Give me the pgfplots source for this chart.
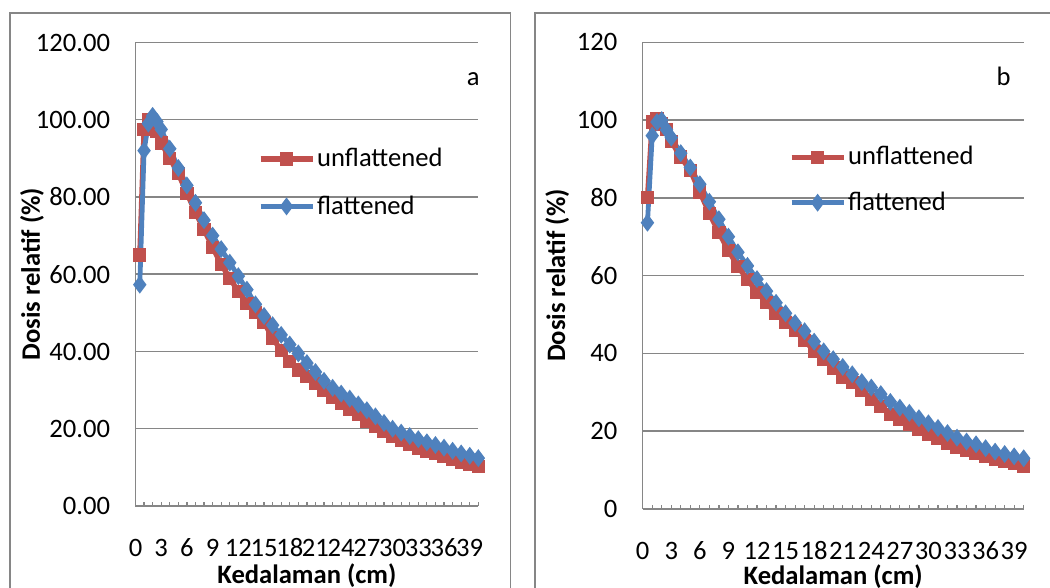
\documentclass[border=0pt]{standalone}
\usepackage{pgfplots}
\usepackage{pgfplotstable}
\pgfplotsset{compat=1.18}
\usepackage{fontspec}
\setmainfont{Carlito}
\definecolor{exred}{HTML}{C0504D}
\definecolor{exblue}{HTML}{4F81BD}
\definecolor{gridgray}{HTML}{868686}

\pgfplotstableread{
x red blue
0.5 65.0 57.3
1 97.5 92.0
1.5 100.0 99.0
2 99.0 101.0
2.5 97.0 99.5
3 94.0 97.5
4 90.0 92.5
5 86.0 87.5
6 81.0 83.0
7 76.0 78.5
8 71.5 74.0
9 67.0 70.0
10 62.5 66.5
11 59.0 63.0
12 55.5 59.5
13 52.4 56.0
14 50.0 52.2
15 47.5 49.2
16 43.5 46.8
17 40.2 44.3
18 37.5 41.8
19 35.2 39.5
20 33.5 37.0
21 31.8 34.7
22 30.0 32.4
23 28.2 30.6
24 26.5 29.1
25 25.0 27.8
26 23.6 26.3
27 22.0 24.8
28 20.6 23.2
29 19.2 21.5
30 18.1 20.0
31 17.0 19.0
32 16.0 18.1
33 15.0 17.3
34 14.2 16.5
35 13.5 15.8
36 12.8 15.1
37 12.0 14.3
38 11.3 13.6
39 10.8 13.0
40 10.2 12.4
}\dataA

\pgfplotstableread{
x red blue
0.5 80.0 73.6
1 99.5 96.0
1.5 100.3 99.5
2 99.0 100.0
2.5 97.5 97.5
3 94.5 95.5
4 90.5 91.5
5 87.0 87.8
6 81.5 83.5
7 76.0 79.0
8 71.0 74.5
9 66.5 70.0
10 62.3 66.0
11 59.0 62.5
12 55.7 59.1
13 53.0 56.0
14 50.2 53.0
15 48.0 50.3
16 45.8 47.8
17 43.4 45.7
18 40.5 43.0
19 38.5 40.5
20 36.2 38.5
21 33.8 36.5
22 32.5 34.6
23 30.5 32.6
24 28.2 31.2
25 26.3 29.5
26 24.2 27.5
27 23.0 26.0
28 21.8 24.7
29 20.5 23.3
30 19.2 22.0
31 18.1 20.8
32 16.8 19.5
33 15.8 18.3
34 15.1 17.3
35 14.2 16.6
36 13.4 15.6
37 12.7 14.7
38 12.2 14.1
39 11.6 13.5
40 11.0 13.0
}\dataB

\newcommand{\fs}{\fontsize{13.3}{15}\selectfont}

\pgfplotsset{
  panel/.style={
    scale only axis,
    anchor=south west,
    xmin=0, xmax=40, ymin=0, ymax=120,
    axis x line*=bottom, axis y line*=left,
    axis line style={gridgray, line width=0.75pt},
    xtick={0,3,...,39},
    xticklabels={0,3,6,9,12,15,18,21,24,27,30,33,36,39},
    minor xtick={0,1,...,40},
    tick align=inside,
    major tick length=2pt, minor tick length=2pt,
    xtick style={gridgray, line width=0.6pt},
    ytick={0,20,...,120},
    ytick style={draw=none},
    ymajorgrids,
    major grid style={gridgray, line width=0.75pt},
    yticklabel style={anchor=east, inner sep=0pt, xshift=-12.5pt},
    tick label style={font=\fs, text=black},
    label style={font=\fs\bfseries, text=black},
    clip=false,
    legend cell align=left,
    legend image code/.code={\draw[mark repeat=2,mark phase=2,##1] plot coordinates {(0pt,0pt) (13pt,0pt) (26pt,0pt)};},
  },
  redser/.style={color=exred, line width=2.6pt, mark=square*, mark size=2pt, mark options={solid, fill=exred}},
  blueser/.style={color=exblue, line width=2.4pt, mark=diamond*, mark size=2.5pt, mark options={solid, fill=exblue}},
}

\begin{document}
\begin{tikzpicture}
\path[use as bounding box] (0,0) rectangle (525pt,294pt);
\draw[gridgray, line width=0.75pt] (5pt,0) -- (5pt,287.5pt) -- (255.25pt,287.5pt) -- (255.25pt,0);
\draw[gridgray, line width=0.75pt] (267.5pt,0) -- (267.5pt,287.5pt) -- (525pt,287.5pt);

\begin{axis}[panel,
  at={(67.75pt,41pt)}, width=171.4pt, height=231.75pt,
  yticklabels={0.00,20.00,40.00,60.00,80.00,100.00,120.00},
  xticklabel style={anchor=center, yshift=-21pt},
  xlabel={Kedalaman (cm)},
  xlabel style={at={(axis description cs:0.5,-0.150)}, anchor=center},
  ylabel={Dosis relatif (\%)},
  ylabel style={at={(axis description cs:-0.302,0.5)}, anchor=center, rotate=0},
  legend style={at={(0.356,0.6975)}, anchor=west, draw=none, fill=none, font=\fs, row sep=11pt, inner sep=0pt, nodes={inner sep=1pt}},
]
\addplot[redser] table[x=x, y=red] {\dataA};
\addlegendentry{unflattened}
\addplot[blueser] table[x=x, y=blue] {\dataA};
\addlegendentry{flattened}
\node[font=\fs, anchor=base] at (axis cs:39.4,108.8) {a};
\end{axis}

\begin{axis}[panel,
  at={(321.35pt,39.6pt)}, width=190.5pt, height=233.2pt,
  yticklabels={0,20,40,60,80,100,120},
  xticklabel style={anchor=center, yshift=-21pt},
  xlabel={Kedalaman (cm)},
  xlabel style={at={(axis description cs:0.5,-0.1445)}, anchor=center},
  ylabel={Dosis relatif (\%)},
  ylabel style={at={(axis description cs:-0.2244,0.5)}, anchor=center, rotate=0},
  legend style={at={(0.383,0.705)}, anchor=west, draw=none, fill=none, font=\fs, row sep=10pt, inner sep=0pt, nodes={inner sep=1pt}},
]
\addplot[redser] table[x=x, y=red] {\dataB};
\addlegendentry{unflattened}
\addplot[blueser] table[x=x, y=blue] {\dataB};
\addlegendentry{flattened}
\node[font=\fs, anchor=base] at (axis cs:37.9,109) {b};
\end{axis}
\end{tikzpicture}
\end{document}
